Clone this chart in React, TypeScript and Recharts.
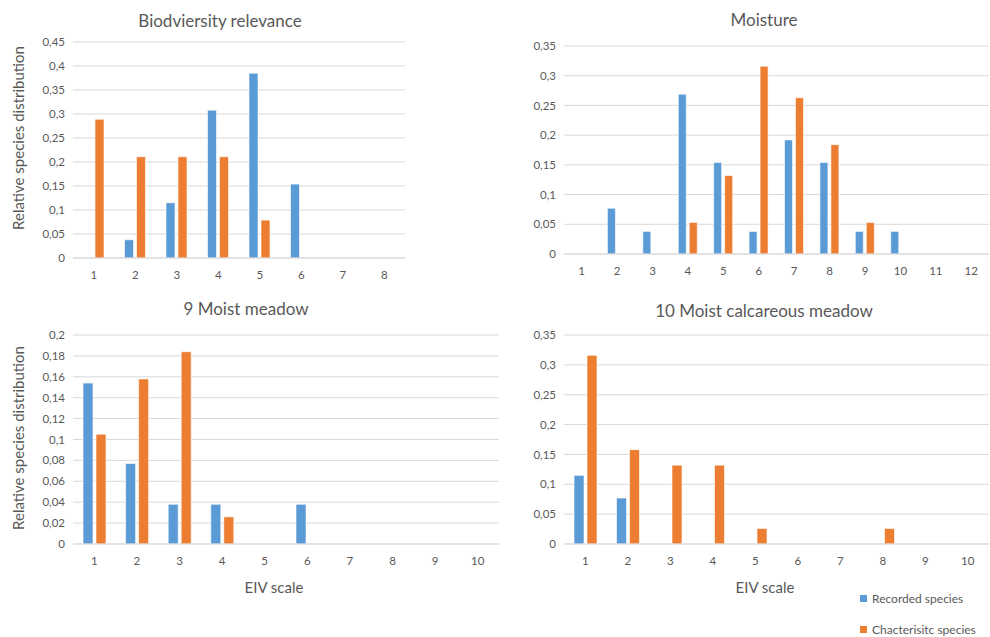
import { BarChart, Bar, XAxis, YAxis, CartesianGrid } from 'recharts';

const BLUE = '#5B9BD5';
const ORANGE = '#ED7D31';
const TEXT = '#595959';
const GRID = '#D9D9D9';
const FONT = 'Lato, "Open Sans", sans-serif';

// Biodiversity relevance
const bioCats = ['1', '2', '3', '4', '5', '6', '7', '8'];
const bioRecorded = [0, 0.038, 0.115, 0.308, 0.385, 0.154, 0, 0];
const bioCharacteristic = [0.289, 0.211, 0.211, 0.211, 0.079, 0, 0, 0];
const bioTicks = [0, 0.05, 0.1, 0.15, 0.2, 0.25, 0.3, 0.35, 0.4, 0.45];

// Moisture
const moistCats = ['1', '2', '3', '4', '5', '6', '7', '8', '9', '10', '11', '12'];
const moistRecorded = [0, 0.077, 0.038, 0.269, 0.154, 0.038, 0.192, 0.154, 0.038, 0.038, 0, 0];
const moistCharacteristic = [0, 0, 0, 0.053, 0.132, 0.316, 0.263, 0.184, 0.053, 0, 0, 0];
const moistTicks = [0, 0.05, 0.1, 0.15, 0.2, 0.25, 0.3, 0.35];

// 9 Moist meadow
const meadowCats = ['1', '2', '3', '4', '5', '6', '7', '8', '9', '10'];
const meadowRecorded = [0.154, 0.077, 0.038, 0.038, 0, 0.038, 0, 0, 0, 0];
const meadowCharacteristic = [0.105, 0.158, 0.184, 0.026, 0, 0, 0, 0, 0, 0];
const meadowTicks = [0, 0.02, 0.04, 0.06, 0.08, 0.1, 0.12, 0.14, 0.16, 0.18, 0.2];

// 10 Moist calcareous meadow
const calcCats = ['1', '2', '3', '4', '5', '6', '7', '8', '9', '10'];
const calcRecorded = [0.115, 0.077, 0, 0, 0, 0, 0, 0, 0, 0];
const calcCharacteristic = [0.316, 0.158, 0.132, 0.132, 0.026, 0, 0, 0.026, 0, 0];
const calcTicks = [0, 0.05, 0.1, 0.15, 0.2, 0.25, 0.3, 0.35];

const SERIES = [
  { key: 'recorded', name: 'Recorded species', color: BLUE },
  { key: 'characteristic', name: 'Chacterisitc species', color: ORANGE },
];

function rows(cats: string[], rec: number[], ch: number[]) {
  return cats.map((c, i) => ({ x: c, recorded: rec[i], characteristic: ch[i] }));
}

const fmt = (v: number) => String(v).replace('.', ',');

interface PanelProps {
  left: number;
  top: number;
  width: number;
  height: number;
  margin: { top: number; right: number; bottom: number; left: number };
  data: { x: string; recorded: number; characteristic: number }[];
  ticks: number[];
  barSize: number;
}

function Panel({ left, top, width, height, margin, data, ticks, barSize }: PanelProps) {
  return (
    <div style={{ position: 'absolute', left, top }}>
      <BarChart width={width} height={height} data={data} margin={margin} barGap={3} barCategoryGap="20%">
        <CartesianGrid vertical={false} stroke={GRID} />
        <XAxis
          dataKey="x"
          axisLine={{ stroke: GRID }}
          tickLine={false}
          tickMargin={7}
          tick={{ fontSize: 11.5, fill: TEXT, fontFamily: FONT }}
          interval={0}
        />
        <YAxis
          domain={[0, ticks[ticks.length - 1]]}
          ticks={ticks}
          tickFormatter={fmt}
          axisLine={false}
          tickLine={false}
          width={60}
          tick={{ fontSize: 11.5, fill: TEXT, fontFamily: FONT }}
          interval={0}
        />
        {SERIES.map((s) => (
          <Bar
            key={s.key}
            dataKey={s.key}
            name={s.name}
            fill={s.color}
            barSize={barSize}
            stroke="#ffffff"
            strokeOpacity={0.6}
            strokeWidth={1}
            isAnimationActive={false}
          />
        ))}
      </BarChart>
    </div>
  );
}

function Text({ x, y, size, children, rotate }: { x: number; y: number; size: number; children: string; rotate?: boolean }) {
  return (
    <div
      style={{
        position: 'absolute',
        left: x,
        top: y,
        transform: `translate(-50%, -50%)${rotate ? ' rotate(-90deg)' : ''}`,
        whiteSpace: 'nowrap',
        fontSize: size,
        color: TEXT,
        fontFamily: FONT,
      }}
    >
      {children}
    </div>
  );
}

function LegendBox() {
  return (
    <div style={{ position: 'absolute', left: 860, top: 590, fontFamily: FONT, fontSize: 12, color: TEXT }}>
      {SERIES.map((s, i) => (
        <div key={s.key} style={{ display: 'flex', alignItems: 'center', height: 16, marginTop: i ? 15 : 0 }}>
          <span style={{ width: 7, height: 7, background: s.color, marginRight: 5, display: 'inline-block' }} />
          {s.name}
        </div>
      ))}
    </div>
  );
}

export default function App() {
  return (
    <div style={{ position: 'fixed', left: 0, top: 0, width: 990, height: 637, background: '#fff', overflow: 'hidden' }}>
      <Panel
        left={0}
        top={0}
        width={420}
        height={290}
        margin={{ top: 42, right: 15, bottom: 2, left: 13 }}
        data={rows(bioCats, bioRecorded, bioCharacteristic)}
        ticks={bioTicks}
        barSize={9}
      />
      <Panel
        left={500}
        top={0}
        width={490}
        height={290}
        margin={{ top: 46, right: 1, bottom: 6, left: 4 }}
        data={rows(moistCats, moistRecorded, moistCharacteristic)}
        ticks={moistTicks}
        barSize={8}
      />
      <Panel
        left={0}
        top={290}
        width={520}
        height={347}
        margin={{ top: 45, right: 21, bottom: 63, left: 13 }}
        data={rows(meadowCats, meadowRecorded, meadowCharacteristic)}
        ticks={meadowTicks}
        barSize={10}
      />
      <Panel
        left={500}
        top={290}
        width={490}
        height={347}
        margin={{ top: 45, right: 1, bottom: 63, left: 4 }}
        data={rows(calcCats, calcRecorded, calcCharacteristic)}
        ticks={calcTicks}
        barSize={10}
      />
      <LegendBox />
      <Text x={220} y={20} size={17}>Biodviersity relevance</Text>
      <Text x={764} y={19} size={17}>Moisture</Text>
      <Text x={246} y={308} size={17}>9 Moist meadow</Text>
      <Text x={764} y={310} size={17}>10 Moist calcareous meadow</Text>
      <Text x={18} y={138} size={15} rotate>Relative species distribution</Text>
      <Text x={18} y={438} size={15} rotate>Relative species distribution</Text>
      <Text x={274} y={587} size={15}>EIV scale</Text>
      <Text x={765} y={587} size={15}>EIV scale</Text>
    </div>
  );
}
